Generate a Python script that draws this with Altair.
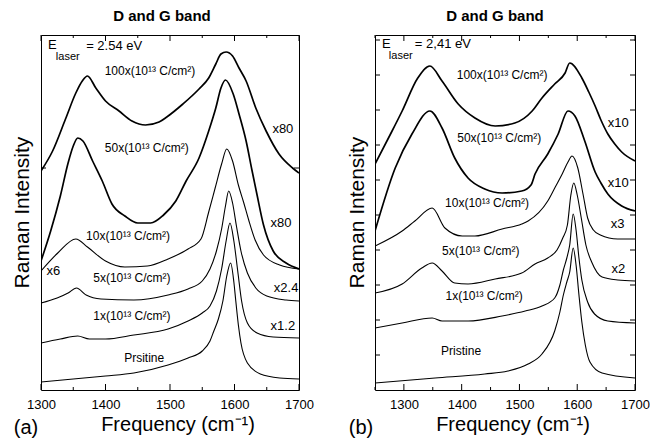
import altair as alt
import pandas as pd

FONT = "Liberation Sans"

# ---------------- panel (a): E_laser = 2.54 eV ----------------
A_F_100 = [1300, 1318, 1338, 1354, 1364, 1372, 1385, 1400, 1421, 1441, 1462, 1483, 1495, 1520, 1545, 1560, 1571, 1579, 1587, 1597, 1607, 1618, 1633, 1649, 1669, 1690, 1700]
A_I_100 = [219, 239, 271, 297, 309, 314, 302, 289, 279, 269, 265, 268, 273, 286, 301, 312, 326, 336, 338, 334, 322, 309, 282, 259, 236, 222, 217]
A_F_50 = [1300, 1315, 1330, 1342, 1350, 1357, 1365, 1380, 1395, 1410, 1430, 1450, 1470, 1490, 1509, 1525, 1545, 1560, 1571, 1579, 1586, 1598, 1607, 1618, 1627, 1635, 1645, 1660, 1680, 1700]
A_I_50 = [129, 159, 194, 227, 244, 252, 249, 229, 209, 186, 174, 167, 167, 175, 189, 209, 232, 259, 282, 302, 310, 296, 276, 249, 220, 195, 165, 139, 127, 121]
A_F_10 = [1300, 1326, 1354, 1372, 1400, 1430, 1465, 1497, 1528, 1548, 1560, 1570, 1580, 1588, 1597, 1606, 1614, 1622, 1632, 1645, 1670, 1700]
A_I_10 = [119, 137, 151, 143, 129, 123, 124, 131, 141, 151, 178, 202, 226, 241, 229, 205, 188, 170, 150, 135, 125, 121]
A_F_5 = [1300, 1325, 1342, 1355, 1370, 1393, 1444, 1497, 1528, 1550, 1562, 1572, 1580, 1586, 1591, 1597, 1603, 1610, 1620, 1633, 1650, 1680, 1700]
A_I_5 = [87, 92, 97, 102, 95, 91, 90, 95, 101, 109, 121, 139, 161, 184, 199, 187, 164, 139, 117, 102, 94, 90, 89]
A_F_1 = [1300, 1330, 1357, 1375, 1400, 1444, 1497, 1528, 1550, 1562, 1572, 1580, 1587, 1593, 1599, 1605, 1611, 1620, 1635, 1660, 1700]
A_I_1 = [47, 51, 54, 51, 51, 55, 61, 69, 77, 84, 99, 121, 149, 167, 149, 119, 89, 67, 57, 53, 52]
A_F_0 = [1300, 1350, 1400, 1444, 1497, 1528, 1550, 1562, 1568, 1575, 1582, 1588, 1594, 1599, 1602, 1606, 1610, 1620, 1640, 1670, 1700]
A_I_0 = [8, 11, 14, 17, 25, 32, 39, 49, 59, 71, 89, 114, 127, 108, 89, 65, 47, 27, 16, 12, 11]

A_LAB_TEXT = ["100x(10¹³ C/cm²)", "50x(10¹³ C/cm²)", "10x(10¹³ C/cm²)", "5x(10¹³ C/cm²)", "1x(10¹³ C/cm²)", "Prsitine"]
A_LAB_F = [1469, 1464, 1435, 1441, 1441, 1460]
A_LAB_V = [319, 242, 154, 112, 74, 32]
A_SC_TEXT = ["x80", "x80", "x6", "x2.4", "x1.2"]
A_SC_F = [1675, 1672, 1319, 1680, 1675]
A_SC_V = [261, 167, 119, 102, 64]
A_E_TEXT = ["E", "laser", "= 2.54 eV"]
A_E_F = [1311, 1323, 1370]
A_E_V = [345, 333, 344]
A_XMAJOR = [1300, 1400, 1500, 1600, 1700]
A_XMINOR = [1350, 1450, 1550, 1650]
A_YTICKS = [222]

# ---------------- panel (b): E_laser = 2,41 eV ----------------
B_F_100 = [1250, 1276, 1297, 1324, 1345, 1366, 1394, 1423, 1458, 1492, 1522, 1539, 1561, 1579, 1587, 1608, 1620, 1631, 1641, 1653, 1665, 1677, 1700]
B_I_100 = [226, 255, 279, 312, 324, 309, 286, 272, 264, 267, 279, 292, 306, 317, 327, 312, 298, 284, 270, 256, 246, 238, 229]
B_F_50 = [1250, 1285, 1314, 1345, 1366, 1388, 1411, 1440, 1470, 1504, 1520, 1527, 1549, 1567, 1584, 1596, 1613, 1631, 1641, 1653, 1677, 1700]
B_I_50 = [159, 222, 256, 279, 262, 232, 212, 201, 197, 199, 205, 216, 236, 256, 279, 274, 249, 218, 207, 196, 184, 179]
B_F_10 = [1250, 1297, 1319, 1349, 1371, 1401, 1423, 1470, 1504, 1515, 1549, 1562, 1574, 1584, 1591, 1601, 1610, 1618, 1628, 1640, 1670, 1700]
B_I_10 = [144, 159, 169, 182, 162, 154, 154, 161, 166, 169, 189, 203, 216, 228, 234, 222, 196, 172, 160, 155, 151, 151]
B_F_5 = [1250, 1297, 1331, 1349, 1366, 1388, 1411, 1458, 1504, 1527, 1549, 1565, 1575, 1583, 1589, 1594, 1600, 1607, 1615, 1625, 1643, 1670, 1700]
B_I_5 = [97, 106, 122, 127, 119, 107, 106, 111, 117, 126, 132, 140, 152, 165, 195, 207, 195, 172, 145, 128, 113, 110, 109]
B_F_1 = [1250, 1297, 1349, 1366, 1411, 1470, 1510, 1539, 1561, 1570, 1576, 1582, 1587, 1593, 1598, 1603, 1608, 1618, 1630, 1653, 1700]
B_I_1 = [62, 67, 72, 69, 69, 74, 79, 84, 92, 105, 120, 132, 145, 176, 160, 132, 110, 88, 76, 69, 67]
B_F_0 = [1250, 1354, 1440, 1480, 1515, 1539, 1561, 1570, 1576, 1582, 1587, 1593, 1598, 1603, 1608, 1614, 1622, 1643, 1700]
B_I_0 = [7, 12, 16, 19, 26, 36, 59, 78, 95, 108, 118, 142, 125, 95, 68, 45, 28, 17, 12]

B_LAB_TEXT = ["100x(10¹³ C/cm²)", "50x(10¹³ C/cm²)", "10x(10¹³ C/cm²)", "5x(10¹³ C/cm²)", "1x(10¹³ C/cm²)", "Pristine"]
B_LAB_F = [1470, 1465, 1444, 1433, 1439, 1399]
B_LAB_V = [315, 252, 187, 139, 94, 39]
B_SC_TEXT = ["x10", "x10", "x3", "x2"]
B_SC_F = [1671, 1671, 1670, 1671]
B_SC_V = [267, 207, 166, 121]
B_E_TEXT = ["E", "laser", "= 2,41 eV"]
B_E_F = [1262, 1274, 1319]
B_E_V = [346, 334, 346]
B_XMAJOR = [1300, 1400, 1500, 1600, 1700]
B_XMINOR = [1250, 1350, 1450, 1550, 1650]
B_YTICKS = [35, 70, 105, 140, 175, 210, 245, 280, 315, 350]

H = 355
Y_DOMAIN = [0, 355]
THICK = {"100x": 1.7, "50x": 1.7}


def series_frame(spec):
    rows = []
    for name, freqs, ints in spec:
        w = THICK.get(name, 1.1)
        for f, v in zip(freqs, ints):
            rows.append({"s": name, "f": f, "v": v, "w": w})
    return pd.DataFrame(rows)


def make_panel(xdom, width, spec, lab, sc, elaser, xmajor, xminor, yticks,
               title_x, ylab_x, xlab_x, letter, letter_x):
    xs = alt.Scale(domain=xdom, nice=False, zero=False)
    ys = alt.Scale(domain=Y_DOMAIN, nice=False, zero=False)
    xaxis = alt.Axis(values=xmajor, title=None, grid=False, domain=False, ticks=False,
                     tickSize=0, labelFont=FONT, labelFontSize=13, labelColor="black",
                     labelPadding=8, format="d", labelFlush=False, labelOverlap=False)
    X = lambda field: alt.X(field, scale=xs, axis=xaxis)
    Y = lambda field: alt.Y(field, scale=ys, axis=None)

    lines = alt.Chart(series_frame(spec)).mark_line(
        color="black", interpolate="monotone", clip=True
    ).encode(x=X("f:Q"), y=Y("v:Q"), detail="s:N",
             strokeWidth=alt.StrokeWidth("w:Q", scale=None))

    major = pd.DataFrame({"t": xmajor})
    minor = pd.DataFrame({"t": xminor})
    yt = pd.DataFrame({"t": yticks})
    tick_style = dict(color="black", strokeWidth=1)
    ticks = [
        alt.Chart(major).mark_rule(**tick_style).encode(x=X("t:Q"), y=alt.value(H), y2=alt.value(H - 6)),
        alt.Chart(major).mark_rule(**tick_style).encode(x=X("t:Q"), y=alt.value(0), y2=alt.value(6)),
        alt.Chart(minor).mark_rule(**tick_style).encode(x=X("t:Q"), y=alt.value(H), y2=alt.value(H - 3)),
        alt.Chart(minor).mark_rule(**tick_style).encode(x=X("t:Q"), y=alt.value(0), y2=alt.value(3)),
        alt.Chart(yt).mark_rule(**tick_style).encode(y=Y("t:Q"), x=alt.value(0), x2=alt.value(5)),
        alt.Chart(yt).mark_rule(**tick_style).encode(y=Y("t:Q"), x=alt.value(width), x2=alt.value(width - 5)),
    ]

    lab_df = pd.DataFrame({"label": lab[0], "f": lab[1], "v": lab[2]})
    labels = alt.Chart(lab_df).mark_text(font=FONT, fontSize=12, color="black").encode(
        x=X("f:Q"), y=Y("v:Q"), text="label:N")
    sc_df = pd.DataFrame({"label": sc[0], "f": sc[1], "v": sc[2]})
    scales = alt.Chart(sc_df).mark_text(font=FONT, fontSize=13, color="black").encode(
        x=X("f:Q"), y=Y("v:Q"), text="label:N")

    e_parts = []
    for i, size in enumerate([13, 11, 13]):
        d = pd.DataFrame({"label": [elaser[0][i]], "f": [elaser[1][i]], "v": [elaser[2][i]]})
        e_parts.append(alt.Chart(d).mark_text(font=FONT, fontSize=size, color="black",
                                              align="left").encode(
            x=X("f:Q"), y=Y("v:Q"), text="label:N"))

    def fixed(text, x, y, size, **kw):
        return alt.Chart(pd.DataFrame({"t": [text]})).mark_text(
            font=FONT, fontSize=size, color="black", **kw
        ).encode(x=alt.value(x), y=alt.value(y), text="t:N")

    title = fixed("D and G band", title_x, -19, 15, fontWeight="bold")
    ylab = fixed("Raman Intensity", ylab_x, H / 2, 21, angle=270)
    xlab = fixed("Frequency (cm⁻¹)", xlab_x, 390, 20)
    let = fixed(letter, letter_x, 393, 20)
    marker = alt.Chart(pd.DataFrame({"t": [0]})).mark_rule(opacity=0).encode(
        x=alt.value(-32), y=alt.value(0), y2=alt.value(10))

    return alt.layer(lines, *ticks, labels, scales, *e_parts, title, ylab, xlab, let, marker
                     ).properties(width=width, height=H)


panel_a = make_panel(
    [1300, 1700], 258,
    [("100x", A_F_100, A_I_100), ("50x", A_F_50, A_I_50), ("10x", A_F_10, A_I_10),
     ("5x", A_F_5, A_I_5), ("1x", A_F_1, A_I_1), ("0x", A_F_0, A_I_0)],
    (A_LAB_TEXT, A_LAB_F, A_LAB_V), (A_SC_TEXT, A_SC_F, A_SC_V), (A_E_TEXT, A_E_F, A_E_V),
    A_XMAJOR, A_XMINOR, A_YTICKS, 121, -18, 137, "(a)", -15)

panel_b = make_panel(
    [1250, 1700], 260,
    [("100x", B_F_100, B_I_100), ("50x", B_F_50, B_I_50), ("10x", B_F_10, B_I_10),
     ("5x", B_F_5, B_I_5), ("1x", B_F_1, B_I_1), ("0x", B_F_0, B_I_0)],
    (B_LAB_TEXT, B_LAB_F, B_LAB_V), (B_SC_TEXT, B_SC_F, B_SC_V), (B_E_TEXT, B_E_F, B_E_V),
    B_XMAJOR, B_XMINOR, B_YTICKS, 120, -17, 138, "(b)", -14)

chart = alt.hconcat(panel_a, panel_b, spacing=76, bounds="flush").properties(
    padding=0
).configure_view(stroke="black", strokeWidth=1)

chart.save("out.html", embed_options={"renderer": "svg", "actions": False})
